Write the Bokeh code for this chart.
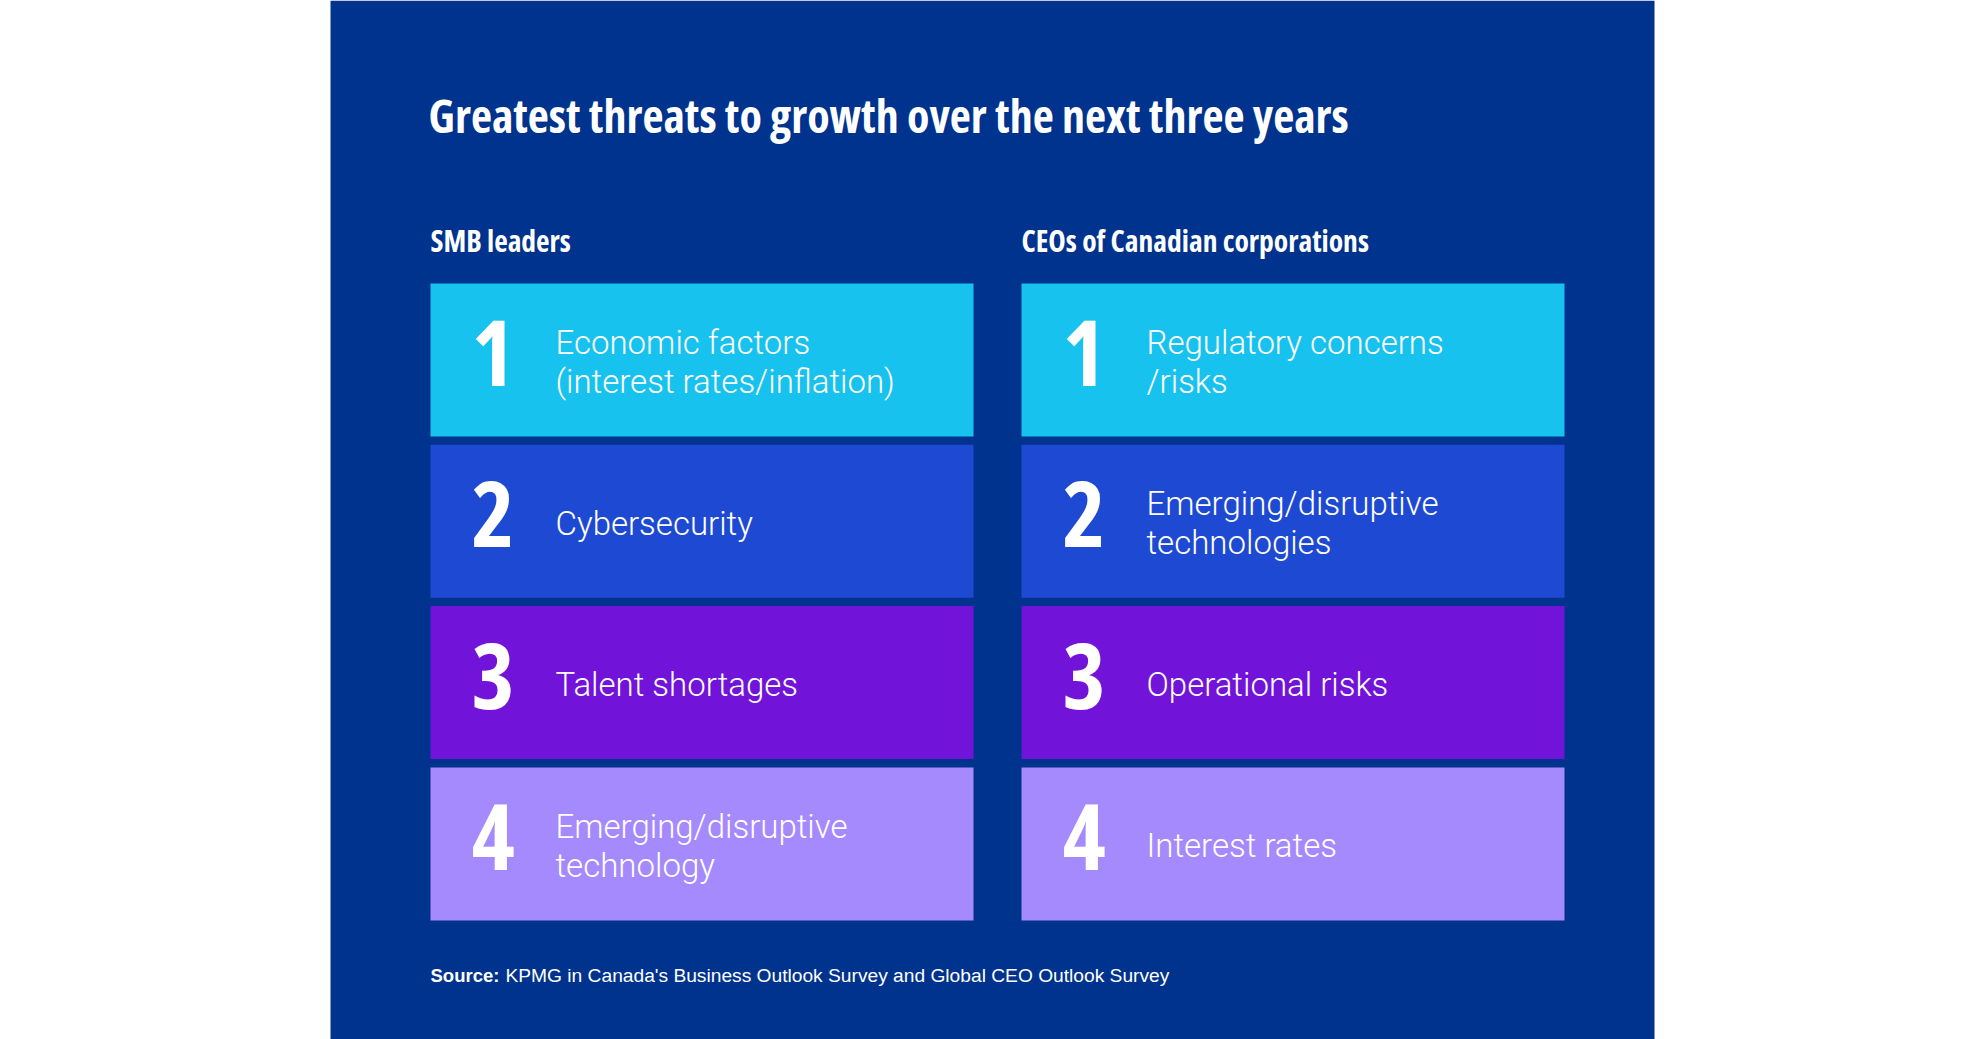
from bokeh.plotting import figure
from bokeh.models import Range1d, ColumnDataSource, InlineStyleSheet
from bokeh.core.properties import value
from bokeh.embed import file_html
from bokeh.resources import INLINE

# ---- data ----
title = "Greatest threats to growth over the next three years"
group_names = ["SMB leaders", "CEOs of Canadian corporations"]
ranks = [1, 2, 3, 4]
smb_threats = ["Economic factors\n(interest rates/inflation)", "Cybersecurity",
               "Talent shortages", "Emerging/disruptive\ntechnology"]
ceo_threats = ["Regulatory concerns\n/risks", "Emerging/disruptive\ntechnologies",
               "Operational risks", "Interest rates"]
rank_colors = ["#17C2EF", "#1E4AD3", "#7213D9", "#A58AFE"]
source_label = "Source:"
source_text = "KPMG in Canada's Business Outlook Survey and Global CEO Outlook Survey"

# ---- layout (screen-pixel coordinates) ----
W, H = 1976, 1039
BG = "#00338D"
COND = "Open Sans"
LIGHT = "Roboto Light"

p = figure(width=W, height=H, x_range=Range1d(0, W), y_range=Range1d(H, 0),
           output_backend="svg", toolbar_location=None, min_border=0,
           background_fill_color="white", border_fill_color="white")
p.axis.visible = False
p.grid.visible = False
p.outline_line_color = None
p.stylesheets = [InlineStyleSheet(css=":host { font-stretch: 75%; }")]

# panel
p.quad(left=[330], right=[1654], top=[0], bottom=[H], fill_color=BG, line_color=None)

# title
p.text(x=[428], y=[114], text=[title], text_color="white", text_font=value(COND),
       text_font_style="bold", text_font_size="46px", text_baseline="middle")

col_left = [430, 1021]
box_w = 543
box_top0 = 283
box_h = 153
box_step = 161.3

for ci, (threats, gname) in enumerate(zip([smb_threats, ceo_threats], group_names)):
    x0 = col_left[ci]
    p.text(x=[x0], y=[240], text=[gname], text_color="white", text_font=value(COND),
           text_font_style="bold", text_font_size="29.5px", text_baseline="middle")
    tops = [box_top0 + (r - 1) * box_step for r in ranks]
    src = ColumnDataSource(dict(
        left=[x0] * len(ranks), right=[x0 + box_w] * len(ranks),
        top=tops, bottom=[t + box_h for t in tops],
        color=rank_colors,
        nx=[x0 + 41] * len(ranks), ny=[t + box_h / 2 - 7 for t in tops],
        num=[str(r) for r in ranks],
        lx=[x0 + 125] * len(ranks), ly=[t + box_h / 2 + 2 for t in tops],
        lab=threats,
    ))
    p.quad(left="left", right="right", top="top", bottom="bottom", fill_color="color",
           line_color=None, source=src)
    p.text(x="nx", y="ny", text="num", source=src, text_color="white", text_font=value(COND),
           text_font_style="bold", text_font_size="92px", text_baseline="middle")
    p.text(x="lx", y="ly", text="lab", source=src, text_color="white", text_font=value(LIGHT),
           text_font_size="33px", text_baseline="middle", text_line_height=1.0)

# source
p.text(x=[430], y=[975], text=[source_label], text_color="white", text_font=value("Liberation Sans"),
       text_font_style="bold", text_font_size="18.5px", text_baseline="middle")
p.text(x=[505], y=[975], text=[source_text], text_color="white", text_font=value("Liberation Sans"),
       text_font_size="19.2px", text_baseline="middle")

open("out.html", "w").write(file_html(p, INLINE))
